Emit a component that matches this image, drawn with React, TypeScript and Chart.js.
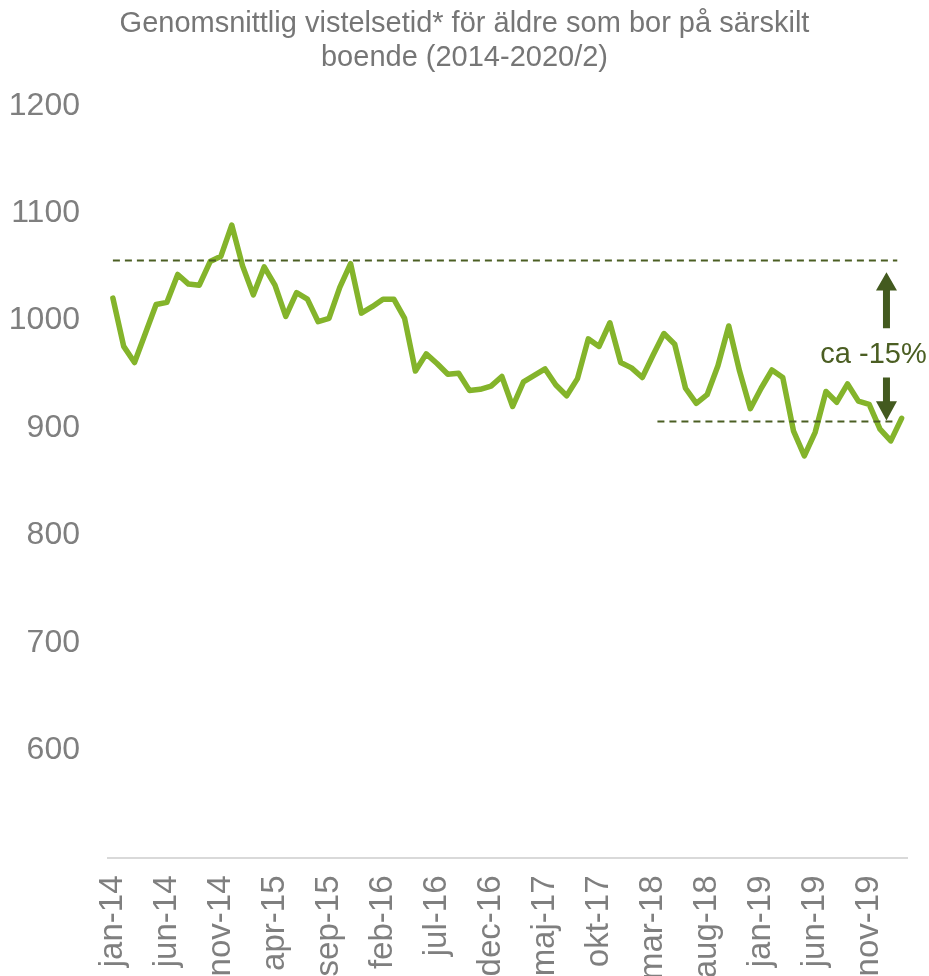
import React, { useEffect, useRef } from "react";
import { Chart, registerables } from "chart.js";

Chart.register(...registerables);

const categories: string[] = [
  "jan-14", "feb-14", "mar-14", "apr-14", "maj-14", "jun-14", "jul-14", "aug-14", "sep-14", "okt-14", "nov-14", "dec-14",
  "jan-15", "feb-15", "mar-15", "apr-15", "maj-15", "jun-15", "jul-15", "aug-15", "sep-15", "okt-15", "nov-15", "dec-15",
  "jan-16", "feb-16", "mar-16", "apr-16", "maj-16", "jun-16", "jul-16", "aug-16", "sep-16", "okt-16", "nov-16", "dec-16",
  "jan-17", "feb-17", "mar-17", "apr-17", "maj-17", "jun-17", "jul-17", "aug-17", "sep-17", "okt-17", "nov-17", "dec-17",
  "jan-18", "feb-18", "mar-18", "apr-18", "maj-18", "jun-18", "jul-18", "aug-18", "sep-18", "okt-18", "nov-18", "dec-18",
  "jan-19", "feb-19", "mar-19", "apr-19", "maj-19", "jun-19", "jul-19", "aug-19", "sep-19", "okt-19", "nov-19", "dec-19",
  "jan-20", "feb-20",
];

const stayDays: number[] = [
  1021, 976, 961, 988, 1015, 1017, 1043, 1034, 1033, 1055,
  1060, 1089, 1051, 1024, 1050, 1033, 1004, 1026, 1020, 999,
  1002, 1031, 1053, 1007, 1013, 1020, 1020, 1002, 953, 969,
  960, 950, 951, 935, 936, 939, 948, 920, 943, 949,
  955, 940, 930, 946, 983, 976, 998, 961, 956, 947,
  968, 988, 978, 937, 923, 931, 958, 995, 953, 918,
  937, 954, 947, 897, 874, 896, 934, 924, 941, 925,
  922, 899, 888, 909,
];

const yTicks: number[] = [500, 600, 700, 800, 900, 1000, 1100, 1200];
const labelEvery = 5;

// reference levels: [value, fromIndex, toIndex]
const upperRef: number[] = [1056, 0, 72.6];
const lowerRef: number[] = [906, 50.4, 72.6];
// arrow annotation (values on y axis), at index position
const arrowIndex = 71.6;
const upArrow: number[] = [1045, 1028, 993];
const downArrow: number[] = [947, 925, 907];
const annotationText = "ca -15%";
const annotationValue = 968;
const annotationIndex = 70.4;

const titleLines = [
  "Genomsnittlig vistelsetid* för äldre som bor på särskilt",
  "boende (2014-2020/2)",
];

const FONT = "'Liberation Sans', Arial, sans-serif";
const GREEN = "#84b42b";
const DARK = "#4b5e23";
const ARROW = "#435a1f";
const GRAY = "#7f7f7f";

const annotationPlugin = {
  id: "refAnnotations",
  afterDraw(chart: any) {
    const { ctx, scales } = chart;
    const x = scales.x;
    const y = scales.y;
    ctx.save();
    // dashed reference lines
    ctx.strokeStyle = DARK;
    ctx.lineWidth = 2;
    ctx.setLineDash([7, 5]);
    for (const ref of [upperRef, lowerRef]) {
      const py = y.getPixelForValue(ref[0]);
      ctx.beginPath();
      ctx.moveTo(x.getPixelForValue(ref[1]), py);
      ctx.lineTo(x.getPixelForValue(ref[2]), py);
      ctx.stroke();
    }
    ctx.setLineDash([]);
    // arrows
    const ax = x.getPixelForValue(arrowIndex);
    ctx.fillStyle = ARROW;
    const shaftW = 7;
    const headW = 21;
    const drawArrow = (tipV: number, baseV: number, endV: number) => {
      const tip = y.getPixelForValue(tipV);
      const base = y.getPixelForValue(baseV);
      const end = y.getPixelForValue(endV);
      ctx.beginPath();
      ctx.moveTo(ax, tip);
      ctx.lineTo(ax + headW / 2, base);
      ctx.lineTo(ax + shaftW / 2, base);
      ctx.lineTo(ax + shaftW / 2, end);
      ctx.lineTo(ax - shaftW / 2, end);
      ctx.lineTo(ax - shaftW / 2, base);
      ctx.lineTo(ax - headW / 2, base);
      ctx.closePath();
      ctx.fill();
    };
    drawArrow(upArrow[0], upArrow[1], upArrow[2]);
    drawArrow(downArrow[2], downArrow[1], downArrow[0]);
    // text
    ctx.fillStyle = DARK;
    ctx.font = `29px ${FONT}`;
    ctx.textAlign = "center";
    ctx.textBaseline = "middle";
    ctx.fillText(annotationText, x.getPixelForValue(annotationIndex), y.getPixelForValue(annotationValue));
    ctx.restore();
  },
};

export default function App() {
  const canvasRef = useRef<HTMLCanvasElement | null>(null);

  useEffect(() => {
    if (!canvasRef.current) return;
    const chart = new Chart(canvasRef.current, {
      type: "line",
      data: {
        labels: categories,
        datasets: [
          {
            label: "Vistelsetid",
            data: stayDays,
            borderColor: GREEN,
            backgroundColor: GREEN,
            borderWidth: 5.5,
            pointRadius: 0,
            tension: 0,
            borderJoinStyle: "round",
            borderCapStyle: "round",
          },
        ],
      },
      options: {
        animation: false,
        responsive: true,
        maintainAspectRatio: false,
        layout: { padding: 0 },
        plugins: {
          legend: { display: false },
          tooltip: { enabled: false },
          title: {
            display: true,
            text: titleLines,
            color: "#767676",
            font: { family: FONT, size: 29, weight: "normal", lineHeight: 1.17 },
            padding: { top: 7, bottom: 31 },
          },
        },
        scales: {
          x: {
            offset: true,
            grid: { display: false, drawTicks: false },
            border: { display: true, color: "#d9d9d9", width: 2 },
            afterFit: (scale: any) => {
              scale.height = 118.5;
              scale.paddingLeft = 0;
              scale.paddingRight = 22;
            },
            ticks: {
              autoSkip: false,
              maxRotation: 90,
              minRotation: 90,
              padding: 18,
              color: GRAY,
              font: { family: FONT, size: 33 },
              callback: (_v: any, i: number) => (i % labelEvery === 0 ? categories[i] : ""),
            },
          },
          y: {
            min: yTicks[0],
            max: yTicks[yTicks.length - 1],
            grid: { display: false, drawTicks: false },
            border: { display: false },
            afterFit: (scale: any) => {
              scale.width = 107.5;
            },
            afterBuildTicks: (scale: any) => {
              scale.ticks = yTicks.map((v) => ({ value: v }));
            },
            ticks: {
              padding: 27.5,
              color: GRAY,
              font: { family: FONT, size: 32 },
              callback: (v: any) => (v === yTicks[0] ? "" : String(v)),
            },
          },
        },
      },
      plugins: [annotationPlugin],
    });
    return () => chart.destroy();
  }, []);

  return (
    <div style={{ position: "absolute", left: 0, top: 0, width: 929, height: 976 }}>
      <canvas ref={canvasRef} />
    </div>
  );
}
